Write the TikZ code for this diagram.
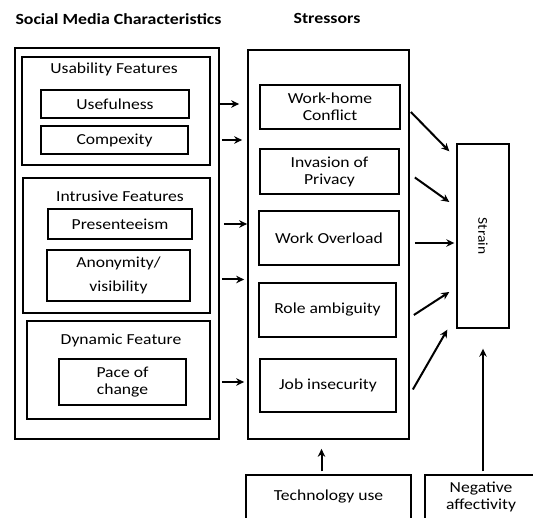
\documentclass[tikz,border=0pt]{standalone}
\usepackage{fontspec}
\setmainfont[FakeStretch=1.15]{Carlito}
\usetikzlibrary{arrows.meta,calc}
\tikzset{
  frame/.style={draw,line width=1.7pt,inner sep=0pt},
  box/.style={draw,line width=1.4pt,inner sep=0pt,align=center},
  heading/.style={font=\fontsize{15.5}{17}\selectfont\bfseries},
  arr/.style={-{Stealth[length=8pt,width=7.5pt]},line width=2pt}
}

\begin{document}
\begin{tikzpicture}[x=1pt,y=-1pt,font=\fontsize{15.3}{17}\selectfont]
  \useasboundingbox (0,0) rectangle (533,518);

    % -- Headings --
    \node[heading] (hsmc) at (118.5,19) {Social Media Characteristics};
    \node[heading] (hstr) at (327,18) {Stressors};

    % -- Outer frames --
    \node[frame,minimum width=204pt,minimum height=391pt] (smc) at (117,243.5) {};
    \node[frame,minimum width=161pt,minimum height=389pt] (str) at (328.5,244.5) {};

    % -- Social media characteristics --
    % Usability group
    \node[box,minimum width=188pt,minimum height=108pt] (usab) at (116,111) {};
    \node (lusab) at (114,69) {Usability Features};
    \node[box,minimum width=148pt,minimum height=28pt] (usef) at (115,104) {Usefulness};
    \node[box,minimum width=147pt,minimum height=28pt] (comp) at (114.5,140) {Compexity};
    % Intrusive group
    \node[box,minimum width=187pt,minimum height=135pt] (intr) at (116.5,245.5) {};
    \node (lintr) at (120,196) {Intrusive Features};
    \node[box,minimum width=144pt,minimum height=30pt] (pres) at (120,224) {Presenteeism};
    \node[box,minimum width=143pt,minimum height=51pt] (anon) at (118.5,275.5) {Anonymity/\\[7pt]visibility};
    % Dynamic group
    \node[box,minimum width=183pt,minimum height=98pt] (dyn) at (118.5,370) {};
    \node (ldyn) at (121,340) {Dynamic Feature};
    \node[box,minimum width=127pt,minimum height=46pt] (pace) at (122.5,382) {Pace of\\change};

    % -- Stressors --
    \node[box,minimum width=140pt,minimum height=44pt] (whc) at (330,107) {Work-home\\Conflict};
    \node[box,minimum width=139pt,minimum height=45pt] (inv) at (329.5,171.5) {Invasion of\\Privacy};
    \node[box,minimum width=140pt,minimum height=54pt] (wol) at (329,238) {Work Overload};
    \node[box,minimum width=137pt,minimum height=54pt] (rol) at (327.5,310) {Role ambiguity};
    \node[box,minimum width=136pt,minimum height=53pt] (job) at (328,385.5) {Job insecurity};

    % -- Outcome and moderators --
    \node[box,minimum width=52pt,minimum height=184pt] (strain) at (483,236)
      {\rotatebox{-90}{\fontsize{13.5}{15}\selectfont Strain}};
    \node[box,minimum width=165pt,minimum height=44pt] (tech) at (328.5,497) {Technology use};
    \node[box,minimum width=112pt,minimum height=44pt] (neg) at (481,497) {Negative\\affectivity};

    % -- Characteristics to stressors --
    \draw[arr,shorten >=8pt] (smc.east |- usef) -- (str.west |- usef);
    \draw[arr,shorten <=2pt,shorten >=5pt] (smc.east |- comp) -- (str.west |- comp);
    \draw[arr,shorten <=4pt] (smc.east |- pres) -- (str.west |- pres);
    \draw[arr,shorten <=2pt,shorten >=3pt] ($(smc.east |- anon)+(0,4)$) -- ($(str.west |- anon)+(0,4)$);
    \draw[arr,shorten <=2pt,shorten >=3pt] (smc.east |- pace) -- (str.west |- pace);

    % -- Stressors to strain --
    \draw[arr] ($(str.east |- whc)+(1,5)$) -- ($(strain.north west)+(-7,8)$);
    \draw[arr] ($(str.east |- inv)+(5,6)$) -- ($(strain.west)+(-7,-34)$);
    \draw[arr] ($(str.east |- wol)+(5,5)$) -- ($(strain.west)+(-2,7)$);
    \draw[arr] ($(str.east |- rol)+(4,5)$) -- ($(strain.west)+(-7,56)$);
    \draw[arr] ($(str.east |- job)+(3,4)$) -- ($(strain.south west)+(-9,1)$);

    % -- Moderators --
    \draw[arr,shorten <=3pt,shorten >=9pt] ([xshift=-7pt]tech.north) -- ([xshift=-7pt]str.south);
    \draw[arr,shorten <=3pt,shorten >=20pt] ([xshift=2pt]neg.north) -- (strain.south);

\end{tikzpicture}
\end{document}
